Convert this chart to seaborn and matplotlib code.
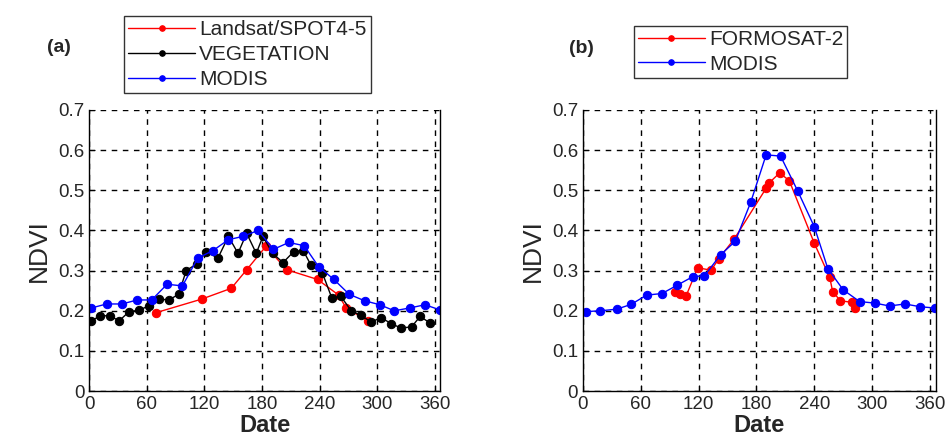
import pandas as pd
import seaborn as sns
import matplotlib.pyplot as plt

# panel (a)
landsat_day = [69, 117, 148, 164, 184, 206, 238, 260, 268, 291]
landsat_ndvi = [0.195, 0.229, 0.256, 0.302, 0.360, 0.302, 0.278, 0.239, 0.206, 0.175]

veg_day = [2, 11, 21, 31, 41, 52, 62, 73, 83, 93, 101, 112, 122, 134, 145, 155, 164, 174,
           181, 191, 202, 213, 223, 231, 243, 253, 262, 273, 283, 294, 304, 315, 325, 336,
           345, 355]
veg_ndvi = [0.175, 0.187, 0.188, 0.175, 0.197, 0.202, 0.212, 0.229, 0.227, 0.241, 0.300,
            0.317, 0.347, 0.331, 0.385, 0.343, 0.393, 0.343, 0.385, 0.343, 0.320, 0.347,
            0.350, 0.314, 0.294, 0.231, 0.237, 0.200, 0.189, 0.172, 0.183, 0.168, 0.157,
            0.160, 0.186, 0.170]

modis_a_day = [2, 18, 34, 50, 65, 81, 97, 113, 129, 145, 160, 176, 192, 208, 224, 239, 255,
               271, 287, 303, 318, 334, 350, 366]
modis_a_ndvi = [0.207, 0.217, 0.217, 0.227, 0.227, 0.266, 0.262, 0.331, 0.350, 0.377, 0.385,
                0.400, 0.353, 0.370, 0.362, 0.310, 0.278, 0.241, 0.225, 0.215, 0.200, 0.207,
                0.215, 0.202]

# panel (b)
formosat_day = [95, 101, 107, 119, 133, 141, 157, 190, 193, 204, 214, 240, 256, 259, 267,
                279, 282]
formosat_ndvi = [0.247, 0.241, 0.237, 0.307, 0.301, 0.330, 0.379, 0.505, 0.518, 0.543, 0.524,
                 0.368, 0.283, 0.248, 0.225, 0.221, 0.207]

modis_b_day = [3, 18, 35, 50, 66, 82, 98, 114, 126, 143, 158, 174, 190, 205, 223, 240, 254,
               270, 287, 303, 318, 334, 350, 365]
modis_b_ndvi = [0.198, 0.200, 0.204, 0.216, 0.239, 0.243, 0.264, 0.285, 0.287, 0.340, 0.373,
                0.470, 0.588, 0.585, 0.497, 0.409, 0.305, 0.252, 0.223, 0.219, 0.212, 0.217,
                0.210, 0.207]

sns.set_style("ticks")
plt.rcParams["font.family"] = ["Liberation Sans", "DejaVu Sans"]

fig = plt.figure(figsize=(9.51, 4.43), dpi=100)
ax_a = fig.add_axes([0.094, 0.117, 0.369, 0.635])
ax_b = fig.add_axes([0.613, 0.117, 0.371, 0.635])


def draw(ax, series):
    for day, ndvi, label, color in series:
        df = pd.DataFrame({"Date": day, "NDVI": ndvi})
        sns.lineplot(data=df, x="Date", y="NDVI", ax=ax, color=color, marker="o",
                     markersize=6, markeredgecolor=color, linewidth=1,
                     estimator=None, sort=False, label=label)
    ax.set_xlim(0, 366)
    ax.set_ylim(0, 0.7)
    ax.set_xticks([0, 60, 120, 180, 240, 300, 360])
    ax.set_yticks([0, 0.1, 0.2, 0.3, 0.4, 0.5, 0.6, 0.7])
    ax.set_yticklabels(["0", "0.1", "0.2", "0.3", "0.4", "0.5", "0.6", "0.7"])
    ax.grid(True, color="black", linestyle=(0, (4, 4)), linewidth=1)
    ax.tick_params(direction="in", labelsize=13.5, length=4, color="black")
    ax.spines["top"].set_visible(False)
    for s in ["left", "right", "bottom"]:
        ax.spines[s].set_color("black")
        ax.spines[s].set_linewidth(1)
    ax.set_xlabel("Date", fontsize=17, fontweight="bold", labelpad=1)
    ax.set_ylabel("NDVI", fontsize=19, labelpad=5)


draw(ax_a, [(landsat_day, landsat_ndvi, "Landsat/SPOT4-5", "red"),
            (veg_day, veg_ndvi, "VEGETATION", "black"),
            (modis_a_day, modis_a_ndvi, "MODIS", "blue")])
draw(ax_b, [(formosat_day, formosat_ndvi, "FORMOSAT-2", "red"),
            (modis_b_day, modis_b_ndvi, "MODIS", "blue")])

for ax, loc in [(ax_a, (0.099, 1.06)), (ax_b, (0.144, 1.114))]:
    leg = ax.legend(loc="lower left", bbox_to_anchor=loc, fontsize=15, frameon=True,
                    fancybox=False, edgecolor="black", handlelength=3.2,
                    borderpad=0.2, labelspacing=0.28, handletextpad=0.2,
                    borderaxespad=0)
    leg.get_frame().set_linewidth(1)
    for h in leg.legend_handles:
        h.set_markersize(4)

fig.text(0.049, 0.883, "(a)", fontsize=14, fontweight="bold")
fig.text(0.598, 0.88, "(b)", fontsize=14, fontweight="bold")

plt.savefig("out.png", dpi=100)
